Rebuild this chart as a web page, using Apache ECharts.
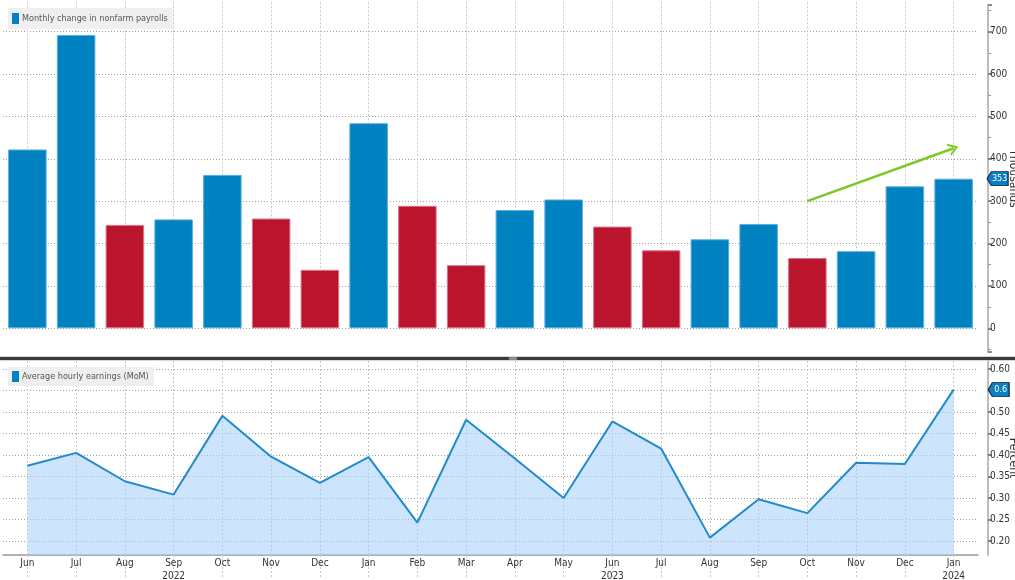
<!DOCTYPE html>
<html><head><meta charset="utf-8">
<script src="https://cdn.jsdelivr.net/npm/echarts@6/dist/echarts.min.js"></script>
<style>html,body{margin:0;padding:0;background:#fff}#c{width:1015px;height:580px}</style>
</head><body><div id="c"></div>
<script>
// ---- data ----
const months = ['Jun','Jul','Aug','Sep','Oct','Nov','Dec','Jan','Feb','Mar','Apr','May','Jun','Jul','Aug','Sep','Oct','Nov','Dec','Jan'];
const yearLabels = ['','','','2022','','','','','','','','','2023','','','','','','','2024'];
const payrolls = [422, 692, 244, 257, 362, 259, 138, 484, 289, 149, 279, 304, 240, 184, 210, 246, 166, 182, 335, 353];
const earnings = [0.375, 0.405, 0.339, 0.308, 0.491, 0.396, 0.335, 0.395, 0.243, 0.482, 0.392, 0.300, 0.478, 0.415, 0.208, 0.297, 0.265, 0.382, 0.379, 0.552];
const trendArrow = [[16, 300], [19, 425]]; // [category index, thousands]
const seriesNames = ['Monthly change in nonfarm payrolls', 'Average hourly earnings (MoM)'];

// ---- style ----
const FONT = "'Liberation Sans Narrow','DejaVu Sans Condensed','Roboto Condensed',sans-serif";
const BLUE = '#0081c0', RED = '#ba152d';
const last = payrolls.length - 1;
const badgePath = 'path://M0,7 L6,0 L30,0 L30,14 L6,14 Z';

const chart = echarts.init(document.getElementById('c'));
const vDash = {type: [2, 2], color: '#c8c8c8', width: 1};
const hDot = {type: [1, 2], color: '#a0a0a0', width: 1};

const option = {
  animation: false,
  backgroundColor: '#fff',
  textStyle: {fontFamily: FONT},
  grid: [
    {left: 3, right: 37, top: 5, bottom: 228, outerBoundsMode: 'none', containLabel: false},
    {left: 3, right: 37, top: 361, bottom: 25, outerBoundsMode: 'none', containLabel: false}
  ],
  legend: [
    {left: 8, top: 8, padding: [5, 5, 5, 4], backgroundColor: '#efefef', itemWidth: 7, itemHeight: 11, itemGap: 3,
     textStyle: {fontSize: 9, color: '#555', fontFamily: FONT, padding: [0, 0, 0, -2]}, selectedMode: false,
     data: [{name: seriesNames[0], icon: 'rect', itemStyle: {color: BLUE}}]},
    {left: 8, top: 367, padding: [4, 5, 4, 4], backgroundColor: '#efefef', itemWidth: 7, itemHeight: 11, itemGap: 3,
     textStyle: {fontSize: 9, color: '#555', fontFamily: FONT, padding: [0, 0, 0, -2]}, selectedMode: false,
     data: [{name: seriesNames[1], icon: 'rect', itemStyle: {color: BLUE}}]}
  ],
  xAxis: [
    {gridIndex: 0, type: 'category', data: months, boundaryGap: true,
     axisLine: {show: false}, axisLabel: {show: false},
     axisTick: {show: true, alignWithLabel: true, inside: true, length: 352, lineStyle: vDash}},
    {gridIndex: 1, type: 'category', data: months, boundaryGap: true, position: 'bottom',
     axisLine: {show: true, lineStyle: {color: '#999', width: 1.5}},
     axisTick: {show: true, alignWithLabel: true, length: 24, lineStyle: vDash},
     axisLabel: {margin: 2, fontSize: 10, color: '#333', lineHeight: 13, fontFamily: FONT,
       formatter: (v, i) => yearLabels[i] ? v + '\n' + yearLabels[i] : v}},
    {gridIndex: 1, type: 'category', data: months, boundaryGap: true, position: 'top',
     axisLine: {show: false}, axisLabel: {show: false},
     axisTick: {show: true, alignWithLabel: true, inside: true, length: 194, lineStyle: vDash}}
  ],
  yAxis: [
    {gridIndex: 0, type: 'value', position: 'right', offset: 10, min: -56, max: 763, splitNumber: 8,
     axisLine: {show: true, lineStyle: {color: '#bdbdbd', width: 2}},
     axisTick: {show: true, length: 4, lineStyle: {color: '#666', width: 1.5}},
     minorTick: {show: true, splitNumber: 2, length: 3, lineStyle: {color: '#999'}},
     axisLabel: {showMinLabel: false, showMaxLabel: false, margin: 2, fontSize: 10, color: '#333', fontFamily: FONT},
     splitLine: {show: true, showMinLine: false, showMaxLine: false, lineStyle: hDot},
     name: 'Thousands', nameLocation: 'middle', nameRotate: -90, nameGap: 19, nameMoveOverlap: false,
     nameTextStyle: {fontSize: 12, color: '#333', fontFamily: FONT}},
    {gridIndex: 1, type: 'value', position: 'right', offset: 10, min: 0.1676, max: 0.6185, splitNumber: 9,
     axisLine: {show: true, lineStyle: {color: '#bdbdbd', width: 2}},
     axisTick: {show: true, length: 4, lineStyle: {color: '#666', width: 1.5}},
     axisLabel: {showMinLabel: false, showMaxLabel: false, margin: 2, fontSize: 10, color: '#333', fontFamily: FONT,
       formatter: v => v.toFixed(2)},
     splitLine: {show: true, showMinLine: false, showMaxLine: false, lineStyle: hDot},
     name: 'Percent', nameLocation: 'middle', nameRotate: -90, nameGap: 19, nameMoveOverlap: false,
     nameTextStyle: {fontSize: 12, color: '#333', fontFamily: FONT}}
  ],
  series: [
    {name: seriesNames[0], type: 'bar', xAxisIndex: 0, yAxisIndex: 0, barWidth: '79%',
     itemStyle: {color: BLUE},
     data: payrolls.map((v, i) => {
       const down = i > 0 && v < payrolls[i - 1];
       return {value: v, itemStyle: {color: down ? RED : BLUE, borderColor: down ? '#d9758a' : '#58aee0', borderWidth: 1}};
     }),
     markLine: {silent: true, symbol: ['none', 'path://M0,20 L10,0 L20,20 L16.5,20 L10,7 L3.5,20 Z'], symbolSize: [13, 10],
       label: {show: false}, lineStyle: {type: 'solid', color: '#7dc823', width: 2.5},
       data: [[{coord: trendArrow[0]}, {coord: trendArrow[1]}]]},
     markPoint: {silent: true, symbol: badgePath, symbolSize: [21, 14], symbolOffset: [44, 0],
       itemStyle: {color: '#0a80c0', borderColor: '#0b2a45', borderWidth: 1},
       label: {show: true, color: '#fff', fontSize: 9, fontFamily: FONT, offset: [2, 0], formatter: p => String(p.value)},
       data: [{coord: [last, payrolls[last]], value: payrolls[last]}]}
    },
    {name: seriesNames[1], type: 'line', xAxisIndex: 1, yAxisIndex: 1, symbol: 'none',
     lineStyle: {color: '#218acb', width: 2}, itemStyle: {color: '#218acb'},
     areaStyle: {color: 'rgba(170,212,250,0.6)', opacity: 1},
     data: earnings,
     markPoint: {silent: true, symbol: badgePath, symbolSize: [21, 14], symbolOffset: [45, 0],
       itemStyle: {color: '#0a80c0', borderColor: '#0b2a45', borderWidth: 1},
       label: {show: true, color: '#fff', fontSize: 9, fontFamily: FONT, offset: [2, 0], formatter: p => p.value.toFixed(1)},
       data: [{coord: [last, earnings[last]], value: earnings[last]}]}
    }
  ],
  graphic: [
    {type: 'rect', left: 0, top: 356, shape: {width: 1015, height: 1}, style: {fill: '#d8d8d8'}, silent: true},
    {type: 'rect', left: 0, top: 357, shape: {width: 1015, height: 3}, style: {fill: '#3a3a3a'}, silent: true},
    {type: 'rect', left: 0, top: 360, shape: {width: 1015, height: 1}, style: {fill: '#d8d8d8'}, silent: true},
    {type: 'rect', left: 509, top: 357, shape: {width: 8, height: 3}, style: {fill: '#8a8a8a'}, silent: true}
  ]
};
chart.setOption(option);
</script>
</body></html>
